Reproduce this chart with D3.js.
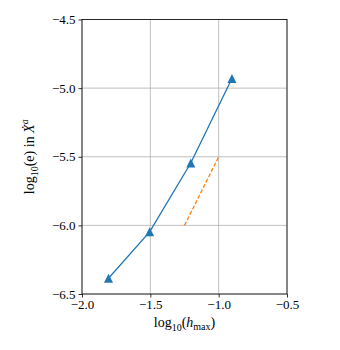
<!DOCTYPE html>
<html>
<head>
<meta charset="utf-8">
<script src="https://cdn.jsdelivr.net/npm/d3@7"></script>
<style>
  body { margin: 0; background: #fff; }
</style>
</head>
<body>
<script>
// log10 of h_max for the four refinements, and the error in X-dot^a
var logH = [-1.806, -1.505, -1.204, -0.903];
var logErr = [-6.385, -6.047, -5.546, -4.93];
// slope-2 reference line
var refX = [-1.25, -1.0];
var refY = [-6.0, -5.5];
var xTicks = [-2.0, -1.5, -1.0, -0.5];
var yTicks = [-6.5, -6.0, -5.5, -5.0, -4.5];

var serif = "'Liberation Serif', 'DejaVu Serif', serif";

var margin = { top: 19.5, right: 53, bottom: 56, left: 82 },
    width = 340 - margin.left - margin.right,
    height = 350 - margin.top - margin.bottom;

var svg = d3.select("body").append("svg")
    .attr("width", 340)
    .attr("height", 350);
var g = svg.append("g")
    .attr("transform", "translate(" + margin.left + "," + margin.top + ")");

var x = d3.scaleLinear().domain([-2.0, -0.5]).range([0, width]);
var y = d3.scaleLinear().domain([-6.5, -4.5]).range([height, 0]);

var fmt = function(d) { return d3.format(".1f")(d).replace("-", "\u2212"); };

// grid
g.selectAll(".gx").data(xTicks).enter().append("line")
    .attr("x1", function(d) { return x(d); }).attr("x2", function(d) { return x(d); })
    .attr("y1", 0).attr("y2", height)
    .attr("stroke", "#b0b0b0").attr("stroke-width", 0.8);
g.selectAll(".gy").data(yTicks).enter().append("line")
    .attr("y1", function(d) { return y(d); }).attr("y2", function(d) { return y(d); })
    .attr("x1", 0).attr("x2", width)
    .attr("stroke", "#b0b0b0").attr("stroke-width", 0.8);

// axes
var xAxis = g.append("g")
    .attr("transform", "translate(0," + height + ")")
    .call(d3.axisBottom(x).tickValues(xTicks).tickFormat(fmt).tickSize(3.5).tickPadding(2.5));
var yAxis = g.append("g")
    .call(d3.axisLeft(y).tickValues(yTicks).tickFormat(fmt).tickSize(3.5).tickPadding(3));
[xAxis, yAxis].forEach(function(a) {
    a.attr("font-family", serif).attr("font-size", 13);
    a.select(".domain").remove();
    a.selectAll("line").attr("stroke", "#000").attr("stroke-width", 0.8);
    a.selectAll("text").style("font-family", serif).style("font-size", "13px").attr("fill", "#000");
});

// frame
g.append("rect")
    .attr("width", width).attr("height", height)
    .attr("fill", "none").attr("stroke", "#000").attr("stroke-width", 0.8);

var pts = logH.map(function(d, i) { return [d, logErr[i]]; });
var line = d3.line().x(function(d) { return x(d[0]); }).y(function(d) { return y(d[1]); });

g.append("path")
    .datum(refX.map(function(d, i) { return [d, refY[i]]; }))
    .attr("d", line)
    .attr("fill", "none").attr("stroke", "#ff7f0e").attr("stroke-width", 1.3)
    .attr("stroke-dasharray", "4,2");

g.append("path")
    .datum(pts)
    .attr("d", line)
    .attr("fill", "none").attr("stroke", "#1f77b4").attr("stroke-width", 1.3);

g.selectAll(".tri").data(pts).enter().append("path")
    .attr("d", "M0,-4.5L4.5,4.5L-4.5,4.5Z")
    .attr("transform", function(d) { return "translate(" + x(d[0]) + "," + y(d[1]) + ")"; })
    .attr("fill", "#1f77b4");

// labels
var xl = svg.append("text")
    .attr("x", margin.left + width / 2).attr("y", 327)
    .attr("text-anchor", "middle").style("font-family", serif).style("font-size", "14px");
xl.append("tspan").text("log");
xl.append("tspan").attr("dy", 3.5).style("font-size", "10px").text("10");
xl.append("tspan").attr("dy", -3.5).text("(");
xl.append("tspan").style("font-style", "italic").text("h");
xl.append("tspan").attr("dy", 3).style("font-size", "10px").text("max");
xl.append("tspan").attr("dy", -3).text(")");

var yl = svg.append("text")
    .attr("transform", "translate(34," + (margin.top + height / 2) + ") rotate(-90)")
    .attr("text-anchor", "middle").style("font-family", serif).style("font-size", "14px");
yl.append("tspan").text("log");
yl.append("tspan").attr("dy", 3.5).style("font-size", "10px").text("10");
yl.append("tspan").attr("dy", -3.5).text("(e) in ");
yl.append("tspan").style("font-style", "italic").text("\u1E8A");
yl.append("tspan").attr("dy", -6).style("font-size", "10px").style("font-style", "italic").text("a");
</script>
</body>
</html>
